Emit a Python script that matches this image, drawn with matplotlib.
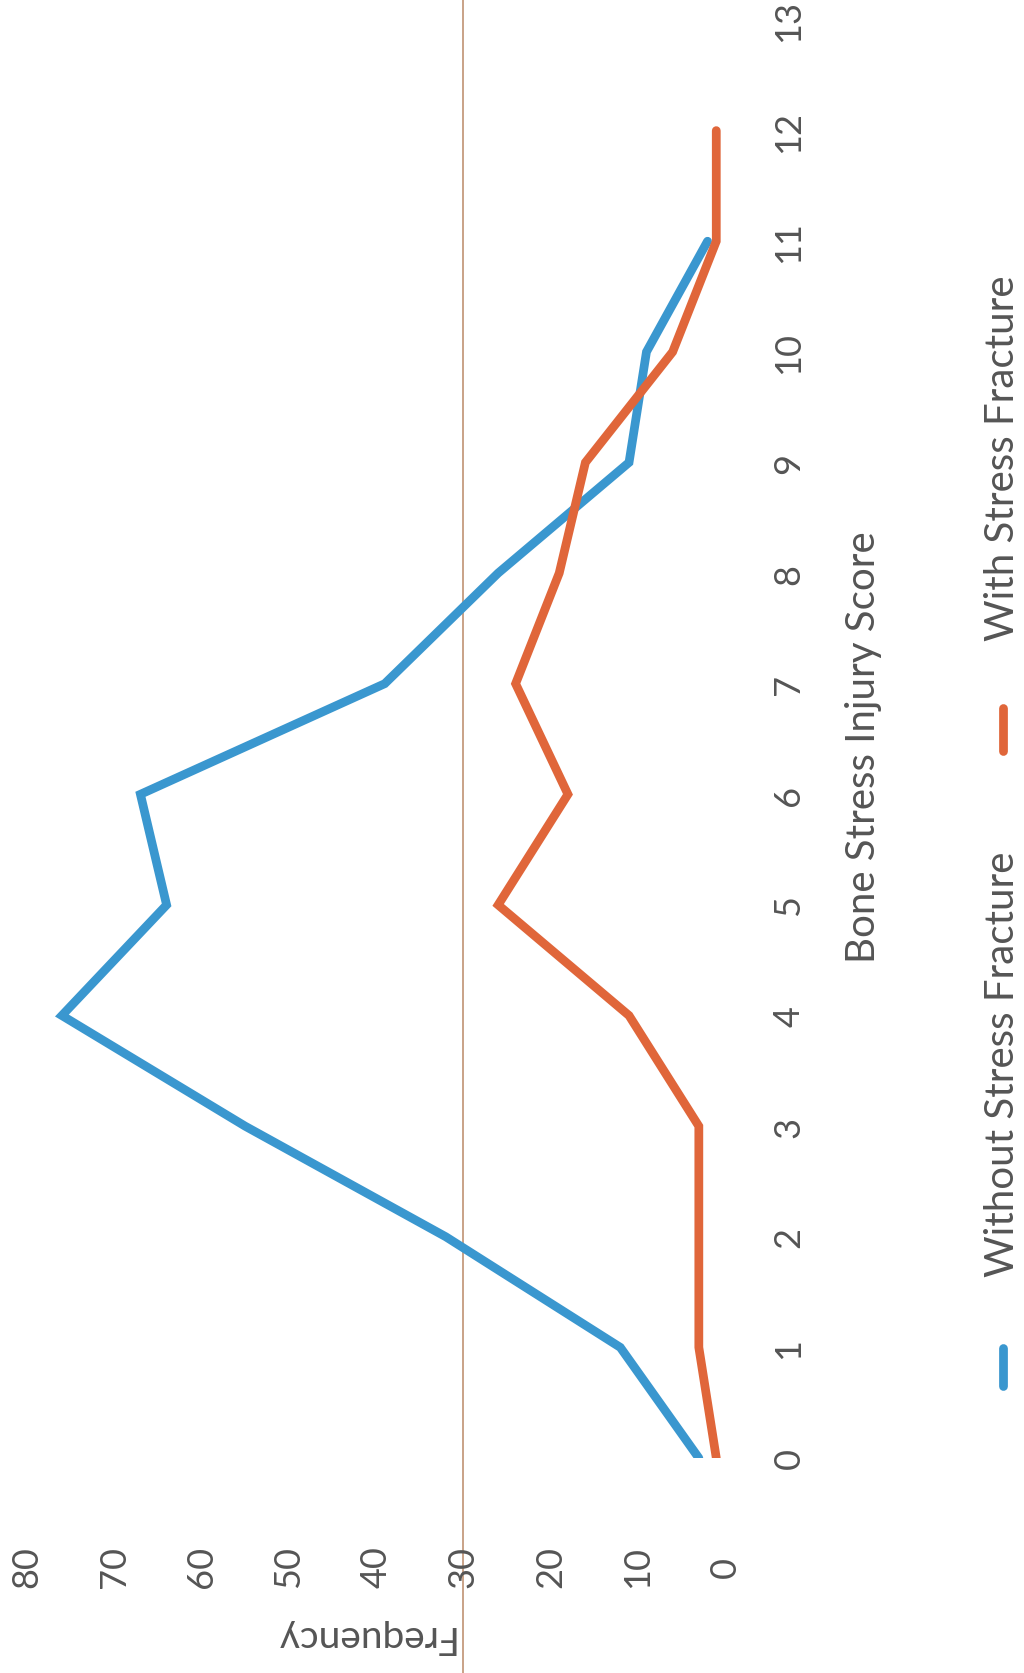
import matplotlib
matplotlib.use("Agg")
import matplotlib.pyplot as plt
from matplotlib.lines import Line2D

# chart values (scanned page is rotated 90 degrees, so score runs up the page)
scores = list(range(13))
without_fracture = [3, 12, 32, 55, 76, 64, 67, 39, 26, 11, 9, 2]
with_fracture = [1, 3, 3, 3, 11, 26, 18, 24, 19, 16, 6, 1, 1]
freq_ticks = list(range(0, 81, 10))
score_ticks = list(range(0, 14))

BLUE = "#3A97CF"
ORANGE = "#E0663A"
GREY = "#555555"
FONT = ["Lato", "DejaVu Sans"]

W_PX, H_PX, DPI = 1024, 1674, 100
plt.rcParams["font.family"] = FONT
plt.rcParams["font.weight"] = "normal"

fig = plt.figure(figsize=(W_PX / DPI, H_PX / DPI), dpi=DPI)
ax = fig.add_axes([27 / W_PX, 1 - 1459 / H_PX, (725 - 27) / W_PX, (1459 - 21) / H_PX])

ax.plot(without_fracture, scores[:len(without_fracture)], color=BLUE, lw=6.3,
        solid_capstyle="round", solid_joinstyle="miter", zorder=3)
ax.plot(with_fracture, scores[:len(with_fracture)], color=ORANGE, lw=6.3,
        solid_capstyle="round", solid_joinstyle="miter", zorder=3)

# scanner streak along the 30 line
ax.axvline(30, ymin=-0.2, ymax=1.1, color="#C9A287", lw=1.4, clip_on=False, zorder=1)

ax.set_xlim(80, 0)
ax.set_ylim(0, 13)
for s in ax.spines.values():
    s.set_visible(False)

ax.set_xticks(freq_ticks)
ax.set_xticklabels([str(t) for t in freq_ticks])
ax.tick_params(axis="x", length=0, pad=78, labelsize=26, labelcolor=GREY)
for lab in ax.get_xticklabels():
    lab.set_rotation(90)
    lab.set_va("center")
    lab.set_ha("center")

ax.yaxis.tick_right()
ax.set_yticks(score_ticks)
ax.set_yticklabels([str(t) for t in score_ticks])
ax.tick_params(axis="y", length=0, pad=46, labelsize=26, labelcolor=GREY)
for lab in ax.get_yticklabels():
    lab.set_rotation(90)
    lab.set_va("center")
    lab.set_ha("center")

# axis titles
fig.text(363 / W_PX, 1 - 1637 / H_PX, "Frequency", rotation=180, ha="center",
         va="center", fontsize=28, color=GREY)
fig.text(864 / W_PX, 1 - 747 / H_PX, "Bone Stress Injury Score", rotation=90,
         ha="center", va="center", fontsize=29, color=GREY)

# legend, drawn by hand so it can stand on its side
lx = 1003 / W_PX
fig.add_artist(Line2D([lx, lx], [1 - 1387 / H_PX, 1 - 1349 / H_PX], color=BLUE,
                      lw=6.3, solid_capstyle="round", transform=fig.transFigure))
fig.text(lx, 1 - 1277 / H_PX, "Without Stress Fracture", rotation=90,
         ha="center", va="bottom", fontsize=29, color=GREY)
fig.add_artist(Line2D([lx, lx], [1 - 752 / H_PX, 1 - 709 / H_PX], color=ORANGE,
                      lw=6.3, solid_capstyle="round", transform=fig.transFigure))
fig.text(lx, 1 - 641 / H_PX, "With Stress Fracture", rotation=90,
         ha="center", va="bottom", fontsize=29, color=GREY)

fig.savefig("out.png", dpi=DPI, facecolor="white")
